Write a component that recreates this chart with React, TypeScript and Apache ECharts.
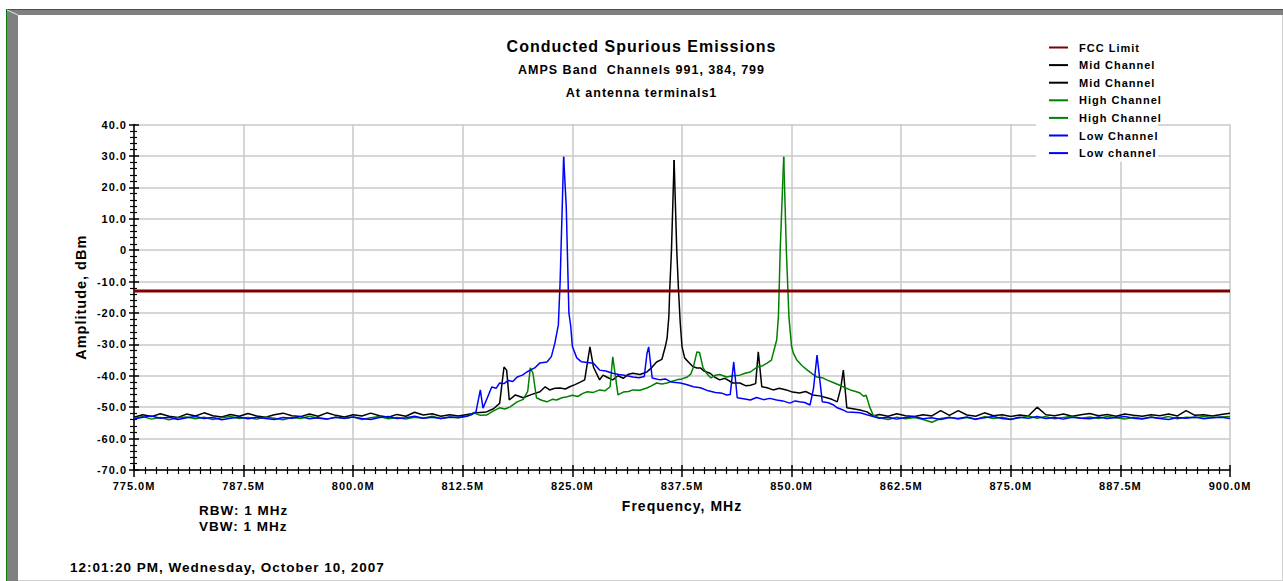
import React, { useEffect, useRef } from 'react';
import * as echarts from 'echarts';

const FONT = '"Liberation Sans", Arial, sans-serif';

// Frequency grid (MHz) for the flat noise-floor stretches
const noiseFreqLeft: number[] = Array.from({ length: 39 }, (_, i) => 775 + i); // 775..813
const noiseFreqRight: number[] = Array.from({ length: 41 }, (_, i) => 860 + i); // 860..900

// Mid channel (black)
const midNoiseLeft = [-53.2, -52.4, -53.0, -52.1, -52.9, -53.3, -52.2, -52.8, -51.8, -52.7,
  -53.1, -52.3, -52.9, -52.0, -52.8, -53.2, -52.4, -51.9, -52.7, -53.0,
  -52.2, -52.9, -51.8, -52.6, -53.1, -52.4, -52.8, -51.9, -52.7, -53.2,
  -52.3, -52.9, -51.6, -52.5, -52.1, -52.9, -52.4, -52.8, -52.3];
const midRise: [number, number][] = [[814.1, -51.8], [815.2, -51.5], [816.0, -50.5], [816.7, -48.8], [817.2, -37.2], [817.5, -38.2], [817.8, -47.7], [818.5, -46.1], [819.4, -47.0], [820.3, -46.0], [821.3, -45.1], [821.9, -43.5], [822.4, -44.5], [823.0, -44.0], [823.6, -43.9], [824.2, -44.2], [824.7, -43.5], [825.3, -42.8], [825.9, -42.0], [826.4, -41.3], [827.0, -30.8], [827.4, -37.2], [828.1, -41.3], [828.5, -39.8], [828.9, -40.4], [829.6, -41.3], [830.2, -40.0], [830.8, -40.8], [831.4, -39.5], [831.9, -39.2], [832.7, -39.6], [833.5, -38.8], [834.0, -37.5], [834.6, -35.6], [835.2, -34.8], [835.6, -30.7], [835.8, -28.0], [836.0, -21.2], [836.1, -12.7], [836.3, 0], [836.6, 28.7]];
const midFall: [number, number][] = [[836.6, 28.7], [836.9, 0], [837.1, -12.7], [837.3, -23.2], [837.5, -30.7], [837.8, -34.3], [838.2, -35.5], [838.7, -37.0], [839.2, -37.5], [839.6, -37.5], [840.0, -38.5], [840.7, -39.2], [841.2, -40.4], [841.8, -41.3], [842.4, -40.8], [843.3, -42.3], [844.1, -42.3], [844.8, -43.2], [845.3, -43.0], [845.9, -42.5], [846.2, -32.4], [846.6, -43.5], [847.2, -43.8], [847.9, -44.5], [848.6, -44.0], [849.4, -44.5], [850.1, -45.2], [850.9, -45.5], [851.6, -45.0], [852.4, -46.1], [853.2, -46.4], [854.0, -47.0], [854.6, -47.5], [855.2, -48.3], [855.6, -44.0], [855.9, -38.2], [856.3, -50.2], [857.0, -50.5], [857.8, -50.9], [858.6, -51.5], [859.3, -52.8]];
const midNoiseRight = [-52.3, -52.9, -52.1, -52.7, -53.0, -52.4, -52.8, -51.1, -52.6, -51.1,
  -52.5, -52.9, -51.8, -52.7, -52.4, -53.0, -52.5, -52.8, -50.0, -52.4,
  -52.7, -52.2, -52.9, -52.4, -52.0, -52.7, -52.3, -52.9, -52.2, -52.6,
  -52.9, -52.4, -52.7, -52.2, -52.8, -51.1, -52.6, -52.4, -52.8, -52.3, -51.9];

// High channel (green)
const highNoiseLeft = [-53.6, -53.0, -53.8, -53.3, -54.0, -53.4, -53.1, -53.7, -53.2, -53.9,
  -53.4, -53.0, -53.6, -53.3, -53.8, -53.1, -53.5, -54.0, -53.3, -53.6,
  -52.9, -53.5, -53.8, -53.2, -53.6, -53.1, -53.9, -53.4, -53.0, -53.7,
  -53.3, -53.8, -53.2, -53.5, -52.9, -53.6, -53.2, -53.4, -52.9];
const highRise: [number, number][] = [[813.7, -51.8], [814.5, -52.6], [815.2, -52.5], [816.0, -51.2], [816.7, -50.2], [817.3, -50.6], [817.9, -49.9], [818.7, -48.3], [819.4, -47.5], [819.9, -45.0], [820.2, -37.5], [820.5, -39.2], [820.9, -47.0], [821.5, -47.8], [822.1, -48.3], [822.7, -47.5], [823.2, -47.7], [823.8, -47.0], [824.4, -46.7], [825.0, -46.2], [825.6, -46.6], [826.2, -45.6], [826.7, -45.1], [827.4, -45.3], [828.1, -44.5], [828.7, -44.8], [829.3, -43.5], [829.6, -34.0], [830.2, -46.1], [830.8, -45.2], [831.4, -45.0], [831.9, -44.5], [832.7, -44.6], [833.5, -43.9], [834.0, -43.2], [834.6, -42.3], [835.2, -42.6], [835.8, -42.3], [836.4, -41.7], [836.9, -41.3], [837.5, -41.0], [838.1, -40.4], [838.5, -39.5], [838.8, -37.2], [839.2, -32.4], [839.5, -32.6], [839.9, -37.5], [840.4, -39.5], [840.8, -40.7], [841.3, -39.8], [841.8, -39.6], [842.6, -40.4], [843.3, -40.0], [844.1, -39.8], [844.7, -39.2], [845.3, -38.8], [846.1, -37.2], [846.7, -36.8], [847.2, -36.0], [847.7, -35.0], [848.1, -30.7], [848.3, -28.6], [848.5, -21.0], [848.7, 0], [849.1, 29.7]];
const highFall: [number, number][] = [[849.1, 29.7], [849.4, 0], [849.7, -21.5], [850.0, -30.7], [850.2, -32.8], [850.6, -35.0], [851.2, -36.8], [851.8, -38.2], [852.4, -39.5], [852.9, -40.4], [853.5, -40.6], [854.0, -41.3], [854.8, -42.2], [855.5, -43.0], [856.1, -43.8], [856.7, -44.5], [857.3, -45.0], [857.8, -45.5], [858.2, -46.5], [858.5, -46.2], [858.9, -49.9], [859.3, -52.5]];
const highNoiseRight = [-53.4, -53.9, -53.2, -53.7, -53.3, -53.9, -54.8, -53.6, -53.2, -53.8,
  -53.3, -53.9, -53.0, -53.6, -53.2, -53.8, -53.4, -52.8, -53.5, -53.0,
  -53.7, -53.3, -52.9, -53.5, -53.1, -53.6, -53.0, -53.4, -53.8, -53.2,
  -53.6, -53.1, -53.5, -53.0, -53.7, -53.2, -53.4, -53.0, -53.3, -53.1, -53.0];

// Low channel (blue)
const lowNoiseLeft = [-53.8, -53.2, -52.8, -53.5, -53.2, -53.9, -53.4, -53.0, -53.6, -53.3,
  -54.0, -53.5, -53.1, -53.7, -53.2, -53.6, -53.9, -53.3, -53.5, -53.0,
  -53.7, -53.4, -53.8, -53.2, -53.5, -53.1, -53.6, -53.9, -53.3, -53.0,
  -53.6, -53.4, -52.9, -53.5, -53.2, -53.6, -53.1, -53.3, -52.8];
const lowRise: [number, number][] = [[813.5, -52.4], [814.0, -51.5], [814.5, -44.5], [814.8, -50.3], [815.3, -47.0], [815.8, -43.6], [816.3, -44.0], [816.7, -42.3], [817.2, -42.5], [817.7, -41.5], [818.2, -41.8], [818.7, -40.4], [819.3, -39.8], [819.8, -38.8], [820.2, -38.2], [820.7, -37.5], [821.3, -35.9], [822.1, -35.6], [822.6, -33.9], [823.0, -29.6], [823.4, -23.8], [823.6, -10.0], [824.0, 29.7]];
const lowFall: [number, number][] = [[824.0, 29.7], [824.3, 13.7], [824.6, -20.0], [824.8, -24.0], [825.0, -30.7], [825.5, -34.3], [826.0, -35.5], [826.7, -35.8], [827.4, -36.0], [828.1, -38.2], [828.8, -38.5], [829.6, -39.2], [830.3, -39.6], [831.1, -39.9], [831.9, -40.4], [832.6, -40.6], [833.2, -40.2], [833.5, -33.0], [833.7, -30.8], [834.1, -40.7], [835.0, -41.3], [835.6, -41.0], [836.3, -42.0], [837.3, -42.3], [838.0, -42.8], [838.8, -43.5], [839.6, -43.8], [840.5, -44.8], [841.3, -45.3], [842.1, -45.6], [842.6, -46.1], [843.0, -46.0], [843.4, -35.6], [843.8, -47.0], [844.5, -47.3], [845.3, -47.7], [846.0, -46.9], [846.8, -47.6], [847.5, -47.2], [848.3, -47.7], [849.0, -48.0], [849.8, -48.7], [850.4, -48.0], [850.9, -48.3], [851.5, -48.5], [852.1, -49.3], [852.5, -44.0], [852.9, -33.4], [853.5, -48.3], [854.2, -48.6], [854.8, -49.3], [855.2, -50.2], [855.8, -50.8], [856.3, -51.5], [857.0, -51.6], [857.8, -51.8], [858.6, -52.4], [859.3, -53.0]];
const lowNoiseRight = [-53.5, -53.2, -53.8, -53.3, -53.0, -53.7, -53.4, -53.9, -53.3, -53.6,
  -53.1, -53.8, -53.4, -53.0, -53.6, -53.9, -53.2, -53.5, -53.0, -53.6,
  -53.3, -53.8, -53.2, -53.5, -53.7, -53.1, -53.6, -53.3, -53.0, -53.5,
  -53.8, -53.2, -53.6, -53.9, -53.3, -53.5, -53.1, -53.7, -53.4, -53.2, -53.6];

const fccLimit = -13;
const freqRange = [775, 900];

const legendNames = ['FCC Limit', 'Mid Channel', 'Mid Channel ', 'High Channel', 'High Channel ', 'Low Channel', 'Low channel'];

const zip = (xs: number[], ys: number[]) => ys.map((y, i) => [xs[i], y]);

export default function App() {
  const ref = useRef<HTMLDivElement>(null);
  useEffect(() => {
    if (!ref.current) return;
    const chart = echarts.init(ref.current, undefined, { renderer: 'svg' });
    const lbl = { fontFamily: FONT, fontWeight: 'bold' as const, color: '#000' };
    const lineSeries = (name: string, color: string, data: number[][]) => ({
      name, type: 'line', data, symbol: 'none', showSymbol: false,
      lineStyle: { color, width: 1.5 }, itemStyle: { color },
    });
    const option: any = {
      animation: false,
      backgroundColor: '#ffffff',
      title: [
        { text: 'Conducted Spurious Emissions', left: 'center', top: 38, padding: 0, textStyle: { ...lbl, fontSize: 16 } },
        { text: 'AMPS Band  Channels 991, 384, 799', left: 'center', top: 63.5, padding: 0, textStyle: { ...lbl, fontSize: 12.5 } },
        { text: 'At antenna terminals1', left: 'center', top: 86.5, padding: 0, textStyle: { ...lbl, fontSize: 12.5 } },
      ],
      legend: {
        orient: 'vertical', left: 1036, top: 38, padding: [4, 8, 3, 12],
        backgroundColor: '#ffffff', itemWidth: 19, itemHeight: 10, itemGap: 6.6,
        selectedMode: false,
        itemStyle: { opacity: 0, borderWidth: 0 },
        textStyle: { ...lbl, fontSize: 11, padding: [0, 0, 0, 6] },
        formatter: (n: string) => n.trim(),
        data: legendNames,
      },
      grid: { left: 134, right: 53, top: 124.5, bottom: 111, containLabel: false },
      xAxis: [
        {
          type: 'value', min: freqRange[0], max: freqRange[1], interval: 12.5, position: 'bottom',
          axisLine: { onZero: false, lineStyle: { color: '#000', width: 1.5 } },
          axisTick: { length: 7, lineStyle: { color: '#000', width: 1.5 } },
          minorTick: { show: true, splitNumber: 10, length: 4, lineStyle: { color: '#000', width: 1.2 } },
          splitLine: { show: true, lineStyle: { color: '#c8c8c8', width: 1.5 } },
          axisLabel: { ...lbl, fontSize: 11, margin: 10, formatter: (v: number) => v.toFixed(1) + 'M', showMinLabel: true, showMaxLabel: true },
          name: 'Frequency, MHz', nameLocation: 'middle', nameGap: 29,
          nameTextStyle: { ...lbl, fontSize: 14 },
        },
        {
          type: 'value', min: freqRange[0], max: freqRange[1], interval: 12.5, position: 'bottom',
          axisLine: { show: false, onZero: false },
          axisTick: { inside: true, length: 5, lineStyle: { color: '#000', width: 1.5 } },
          minorTick: { show: true, splitNumber: 10, length: 3, lineStyle: { color: '#000', width: 1.2 } },
          splitLine: { show: false }, axisLabel: { show: false },
        },
      ],
      yAxis: [
        {
          type: 'value', min: -70, max: 40, interval: 10, position: 'left',
          axisLine: { show: true, onZero: false, lineStyle: { color: '#000', width: 1.5 } },
          axisTick: { show: true, length: 5, lineStyle: { color: '#000', width: 1.5 } },
          minorTick: { show: true, splitNumber: 5, length: 4, lineStyle: { color: '#000', width: 1.2 } },
          splitLine: { show: true, lineStyle: { color: '#c8c8c8', width: 1.5 } },
          axisLabel: { ...lbl, fontSize: 11, margin: 7, formatter: (v: number) => (v === 0 ? '0' : v.toFixed(1)) },
          name: 'Amplitude, dBm', nameLocation: 'middle', nameGap: 46,
          nameTextStyle: { ...lbl, fontSize: 14.5 },
        },
        {
          type: 'value', min: -70, max: 40, interval: 10, position: 'left',
          axisLine: { show: false, onZero: false },
          axisTick: { show: true, inside: true, length: 5, lineStyle: { color: '#000', width: 1.5 } },
          minorTick: { show: true, splitNumber: 5, length: 3, lineStyle: { color: '#000', width: 1.2 } },
          splitLine: { show: false }, axisLabel: { show: false },
        },
      ],
      series: [
        lineSeries('Mid Channel', '#000000', [...zip(noiseFreqLeft, midNoiseLeft), ...midRise]),
        lineSeries('Mid Channel ', '#000000', [...midFall, ...zip(noiseFreqRight, midNoiseRight)]),
        lineSeries('High Channel', '#008000', [...zip(noiseFreqLeft, highNoiseLeft), ...highRise]),
        lineSeries('High Channel ', '#008000', [...highFall, ...zip(noiseFreqRight, highNoiseRight)]),
        lineSeries('Low Channel', '#0000ff', [...zip(noiseFreqLeft, lowNoiseLeft), ...lowRise]),
        lineSeries('Low channel', '#0000ff', [...lowFall, ...zip(noiseFreqRight, lowNoiseRight)]),
        {
          name: 'FCC Limit', type: 'line', symbol: 'none', showSymbol: false, z: 3,
          data: [[freqRange[0], fccLimit], [freqRange[1], fccLimit]],
          lineStyle: { color: '#800000', width: 3 }, itemStyle: { color: '#800000' },
        },
      ],
      graphic: [
        { type: 'line', shape: { x1: 6, y1: 9.5, x2: 1283, y2: 9.5 }, style: { stroke: '#0a7d0a', lineWidth: 1 }, silent: true },
        { type: 'line', shape: { x1: 6.5, y1: 9, x2: 6.5, y2: 581 }, style: { stroke: '#0a7d0a', lineWidth: 1 }, silent: true },
        { type: 'rect', shape: { x: 7, y: 10, width: 1276, height: 5 }, style: { fill: '#808080' }, silent: true },
        { type: 'rect', shape: { x: 7, y: 10, width: 11, height: 571 }, style: { fill: '#808080' }, silent: true },
        { type: 'line', shape: { x1: 7, y1: 10, x2: 18, y2: 15 }, style: { stroke: '#e8e8e8', lineWidth: 1 }, silent: true },
        { type: 'line', shape: { x1: 1282.5, y1: 15, x2: 1282.5, y2: 581 }, style: { stroke: '#d0d0d0', lineWidth: 1 }, silent: true },
        { type: 'line', shape: { x1: 18, y1: 580.5, x2: 1283, y2: 580.5 }, style: { stroke: '#d0d0d0', lineWidth: 1 }, silent: true },
        { type: 'text', x: 199, y: 510, style: { text: 'RBW: 1 MHz', font: `bold 13.5px ${FONT}`, fill: '#000', verticalAlign: 'middle' } },
        { type: 'text', x: 199, y: 526, style: { text: 'VBW: 1 MHz', font: `bold 13.5px ${FONT}`, fill: '#000', verticalAlign: 'middle' } },
        { type: 'text', x: 70, y: 567, style: { text: '12:01:20 PM, Wednesday, October 10, 2007', font: `bold 13.5px ${FONT}`, fill: '#000', verticalAlign: 'middle' } },
      ],
    };
    chart.setOption(option);
    return () => chart.dispose();
  }, []);
  return (
    <>
      <style>{'#spur-chart text{letter-spacing:1px;}'}</style>
      <div id="spur-chart" ref={ref} style={{ position: 'absolute', left: 0, top: 0, width: 1283, height: 581 }} />
    </>
  );
}
